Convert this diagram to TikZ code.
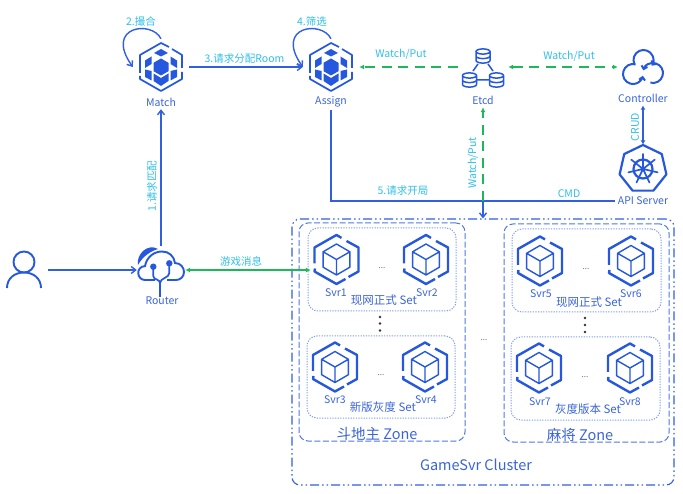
\documentclass[tikz,border=0pt]{standalone}
\usepackage{fontspec}
\setmainfont{Noto Sans CJK SC}
\usetikzlibrary{arrows.meta}
\definecolor{lineblue}{HTML}{3060DE}
\definecolor{iconblue}{HTML}{2558DE}
\definecolor{nameblue}{HTML}{3A64D8}
\definecolor{stepcyan}{HTML}{2FBFE8}
\definecolor{watchgreen}{HTML}{1DB85A}
\definecolor{setblue}{HTML}{7F9FEA}
\tikzset{
  iconbox/.style={inner sep=0pt,minimum size=48pt},
  namelabel/.style={inner sep=0pt,outer sep=3pt,text=nameblue,font=\fontsize{10.5}{12}\selectfont},
  steplabel/.style={inner sep=0pt,text=stepcyan,font=\fontsize{10.5}{12}\selectfont},
  setlabel/.style={inner sep=0pt,text=nameblue,font=\fontsize{11.5}{13}\selectfont},
  zonelabel/.style={inner sep=0pt,text=nameblue,font=\fontsize{14.5}{16}\selectfont},
  dotslabel/.style={inner sep=0pt,text=black!60,font=\fontsize{8}{10}\selectfont},
  clusterbox/.style={draw=lineblue,line width=1.1pt,rounded corners=8pt,inner sep=0pt,
    dash pattern=on 9pt off 3pt on 1.5pt off 3pt on 1.5pt off 3pt},
  zonebox/.style={draw=lineblue!85,line width=1pt,rounded corners=9pt,inner sep=0pt,
    dash pattern=on 6pt off 2.5pt},
  setbox/.style={draw=setblue,line width=1pt,rounded corners=10pt,inner sep=0pt,
    dash pattern=on 1.3pt off 1.3pt},
  blueline/.style={draw=lineblue,line width=1.4pt},
  bluearrow/.style={blueline,-{Straight Barb[length=4.5pt,width=7pt]}},
  bluebiarrow/.style={blueline,{Latex[length=4.5pt,width=5pt]}-{Latex[length=4.5pt,width=5pt]}},
  greendash/.style={draw=watchgreen,line width=1.3pt,dash pattern=on 10pt off 6.5pt},
  roomhex/.pic={
    \draw[iconblue,line width=1.7pt,line join=round]
      (8,20) -- (0,24) -- (-21,12) -- (-21,-6)
      (-21,-9) -- (-21,-12) -- (0,-24) -- (21,-12) -- (21,-5)
      (21,-1) -- (21,12) -- (11,18);
    \fill[iconblue] (0,8.5) -- (7.5,4.2) -- (7.5,-4.2) -- (0,-8.5) -- (-7.5,-4.2) -- (-7.5,4.2) -- cycle;
    \fill[iconblue] (0,18) -- (7,14) -- (0,10.5) -- (-7,14) -- cycle;
    \fill[iconblue] (0,-11) -- (7.5,-6.5) -- (7.5,-14) -- (0,-19) -- (-7.5,-14) -- (-7.5,-6.5) -- cycle;
    \foreach \s in {1,-1}{
      \fill[iconblue] (\s*9.5,10.5) -- (\s*16,6.5) -- (\s*16,-1) -- (\s*9.5,3) -- cycle;
      \fill[iconblue] (\s*9.5,-4) -- (\s*16,-2.5) -- (\s*16,-10) -- (\s*9.5,-13.5) -- cycle;
    }
  },
  svrhex/.pic={
    \draw[iconblue,line width=2.4pt,line join=round]
      (5,21.6) -- (0,24.5) -- (-22,12) -- (-22,-4)
      (-21.5,-9) -- (-22,-12) -- (0,-24.5) -- (9,-19.5)
      (12,-17.5) -- (22,-12) -- (22,12) -- (10,18.5);
    \draw[iconblue,line width=1.4pt,line join=round]
      (0,15.5) -- (13.4,7.7) -- (13.4,-7.7) -- (0,-15.5) -- (-13.4,-7.7) -- (-13.4,7.7) -- cycle
      (-13.4,7.7) -- (0,0) -- (13.4,7.7) (0,0) -- (0,-15.5);
  },
  dbcyl/.pic={
    \draw[iconblue,line width=1.5pt]
      (0,4.5) ellipse (7 and 2.6)
      (-7,4.5) -- (-7,-4.5) arc[start angle=180,end angle=360,x radius=7,y radius=2.6] -- (7,4.5)
      (-7,0) arc[start angle=180,end angle=360,x radius=7,y radius=2.6];
  },
  etcdstack/.pic={
    \pic at (0,11) {dbcyl};
    \pic at (-13.5,-13) {dbcyl};
    \pic at (13.5,-13) {dbcyl};
    \draw[iconblue,line width=1.5pt] (-5,3) -- (-10,-4) (5,3) -- (10,-4) (-6,-13) -- (6,-13);
  },
  loopicon/.pic={
    \draw[iconblue,line width=2pt,-{Straight Barb[length=3pt,width=6pt]}]
      (0.5,7) ++(205:10) arc[start angle=205,end angle=-35,radius=10];
    \draw[iconblue,line width=2pt,-{Straight Barb[length=3pt,width=6pt]}]
      (-10,-7) ++(75:10) arc[start angle=75,end angle=350,radius=10];
    \draw[iconblue,line width=2pt,-{Straight Barb[length=3pt,width=6pt]}]
      (10,-6) ++(-105:10) arc[start angle=-105,end angle=165,radius=10];
  },
  helmicon/.pic={
    \draw[iconblue,line width=2.2pt,line join=round]
      (90:24) -- (38.6:24) -- (-12.9:24) -- (-64.3:24) -- (-115.7:24) -- (-167.1:24) -- (141.4:24) -- cycle;
    \draw[iconblue,line width=2.2pt] (0,0) circle (9.5);
    \fill[iconblue] (0,0) circle (2.5);
    \foreach \a in {90,38.6,-12.9,-64.3,-115.7,-167.1,141.4}{
      \draw[iconblue,line width=1.7pt,line cap=round] (\a:2) -- (\a:15);
    }
  },
  routercloud/.pic={
    \fill[iconblue] (-23,5) .. controls (-25,16) and (-13,27) .. (-3,21) .. controls (-10,19) and (-18,14) .. (-23,5);
    \draw[iconblue,line width=1.9pt]
      (-6,-10) -- (-16,-10) .. controls (-24,-10) and (-26,3) .. (-16,4)
      .. controls (-14,14) and (-6,18.5) .. (1,18.5) .. controls (8,18.5) and (13,14) .. (14,7)
      .. controls (20,7) and (23,2) .. (23,-2) .. controls (23,-7) and (19,-10) .. (15,-10) -- (6,-10);
    \fill[iconblue] (-7.7,3.3) circle (3.2) (8.3,6.7) circle (3.2);
    \draw[iconblue,line width=1.7pt]
      (-7.7,3) -- (-7.7,-6) .. controls (-7.7,-10) and (-1,-9) .. (-1,-13) -- (-1,-27)
      (8.3,6.7) -- (8.3,-3) .. controls (8.3,-8) and (-1,-8) .. (-1,-13);
  },
  personicon/.pic={
    \draw[iconblue,line width=1.9pt] (0,8) circle (10.5);
    \draw[iconblue,line width=1.9pt]
      (-17,-18) .. controls (-17,-8) and (-9,-2.5) .. (0,-2.5) .. controls (9,-2.5) and (17,-8) .. (17,-18);
  }
}
\begin{document}
\begin{tikzpicture}[x=1pt,y=1pt]
\useasboundingbox (0,0) rectangle (683,-494);
\node [clusterbox,minimum width=382pt,minimum height=266pt] (cluster) at (483,-352) {};
\node [zonebox,minimum width=166pt,minimum height=218pt] (zoneleft) at (382,-332) {};
\node [zonebox,minimum width=165pt,minimum height=218pt] (zoneright) at (586.5,-333) {};
\node [setbox,minimum width=148pt,minimum height=83pt] (setone) at (382,-269.5) {};
\node [setbox,minimum width=148pt,minimum height=82pt] (settwo) at (381,-377) {};
\node [setbox,minimum width=149pt,minimum height=83pt] (setthree) at (586.5,-270.5) {};
\node [setbox,minimum width=149pt,minimum height=83pt] (setfour) at (585.5,-378.5) {};
\node [iconbox] (user) at (24,-270) {};
\pic at (user) {personicon};
\node [iconbox] (router) at (161,-270) {};
\pic at (router) {routercloud};
\node [namelabel] (routerlabel) at (162,-301) {Router};
\node [iconbox,minimum size=56pt] (match) at (161,-67) {};
\pic at (match) {roomhex};
\node [namelabel] (matchlabel) at (161,-102) {Match};
\node [iconbox,minimum size=56pt] (assign) at (331,-67) {};
\pic at (assign) {roomhex};
\node [namelabel] (assignlabel) at (331,-102) {Assign};
\node [iconbox,minimum size=50pt] (etcd) at (483,-67) {};
\pic at (etcd) {etcdstack};
\node [namelabel] (etcdlabel) at (483,-100) {Etcd};
\node [iconbox,minimum size=50pt] (controller) at (643,-67) {};
\pic at (controller) {loopicon};
\node [namelabel] (controllerlabel) at (643,-98) {Controller};
\node [iconbox] (api) at (643,-169) {};
\pic at (api) {helmicon};
\node [namelabel] (apilabel) at (643,-201) {API Server};
\node [iconbox,minimum size=51pt] (svr1) at (336.5,-259.5) {};
\pic at (svr1) {svrhex};
\node [namelabel] (svr1label) at (336,-293) {Svr1};
\node [iconbox,minimum size=51pt] (svr2) at (426,-259.5) {};
\pic at (svr2) {svrhex};
\node [namelabel] (svr2label) at (427,-293) {Svr2};
\node [iconbox,minimum size=51pt] (svr3) at (335,-367) {};
\pic at (svr3) {svrhex};
\node [namelabel] (svr3label) at (335,-400) {Svr3};
\node [iconbox,minimum size=51pt] (svr4) at (425,-367) {};
\pic at (svr4) {svrhex};
\node [namelabel] (svr4label) at (426,-400) {Svr4};
\node [iconbox,minimum size=51pt] (svr5) at (540,-261) {};
\pic at (svr5) {svrhex};
\node [namelabel] (svr5label) at (541,-294) {Svr5};
\node [iconbox,minimum size=51pt] (svr6) at (631,-261) {};
\pic at (svr6) {svrhex};
\node [namelabel] (svr6label) at (631,-294) {Svr6};
\node [iconbox,minimum size=51pt] (svr7) at (539,-368) {};
\pic at (svr7) {svrhex};
\node [namelabel] (svr7label) at (540,-402) {Svr7};
\node [iconbox,minimum size=51pt] (svr8) at (630,-368) {};
\pic at (svr8) {svrhex};
\node [namelabel] (svr8label) at (630,-402) {Svr8};
\node [setlabel] (setonelabel) at (384,-300) {现网正式 Set};
\node [setlabel] (settwolabel) at (383,-407) {新版灰度 Set};
\node [setlabel] (setthreelabel) at (589,-302) {现网正式 Set};
\node [setlabel] (setfourlabel) at (588,-409) {灰度版本 Set};
\node [zonelabel] (zoneleftlabel) at (377,-434) {斗地主 Zone};
\node [zonelabel] (zonerightlabel) at (580,-435) {麻将 Zone};
\node [zonelabel] (clusterlabel) at (476,-465) {GameSvr Cluster};
\node [dotslabel] (dotsone) at (382,-268) {...};
\node [dotslabel] (dotstwo) at (381,-375) {...};
\node [dotslabel] (dotsthree) at (586,-269) {...};
\node [dotslabel] (dotsfour) at (585,-377) {...};
\node [dotslabel] (dotsmid) at (484,-340) {...};
\fill [black!80] (380,-317) circle (1.3) (380,-323.5) circle (1.3) (380,-330.5) circle (1.3);
\fill [black!80] (585,-318) circle (1.3) (585,-325) circle (1.3) (585,-332) circle (1.3);
\coordinate (busjoin) at (483,-201);
\draw [bluearrow] (user) -- (router);
\draw [blueline,-{Straight Barb[length=4.5pt,width=7pt]}] (router.north) -- (matchlabel.south);
\draw [bluearrow] (match.east) -- (assign.west);
\draw [bluearrow] (match.north) .. controls (152,-20) and (104,-26) .. (match.west);
\draw [bluearrow] (assign.north) .. controls (322,-20) and (274,-26) .. (assign.west);
\draw [blueline] (assignlabel.south) |- (apilabel.west);
\draw [bluearrow] (busjoin) -- (busjoin |- cluster.north);
\draw [bluebiarrow] (controllerlabel.south) -- (api.north);
\draw [greendash,-{Latex[length=5pt,width=5pt]}] (etcd.west) -- (assign.east);
\draw [greendash,{Latex[length=5pt,width=5pt]}-{Latex[length=5pt,width=5pt]}] (etcd.east) -- (controller.west);
\draw [greendash,-{Latex[length=5pt,width=5pt]}] (busjoin) -- (etcdlabel.south);
\draw [draw=watchgreen,line width=1.3pt,{Latex[length=5pt,width=5pt]}-{Latex[length=5pt,width=5pt]}] (router.east) -- (router.east -| svr1.west);
\node [steplabel] (matchstep) at (141,-21) {2.撮合};
\node [steplabel] (assignstep) at (312,-21) {4.筛选};
\node [steplabel] (roomstep) at (244.5,-59) {3.请求分配Room};
\node [steplabel,rotate=90] (requeststep) at (152,-186) {1.请求匹配};
\node [steplabel] (msgstep) at (241,-261) {游戏消息};
\node [steplabel] (startstep) at (403,-191) {5.请求开局};
\node [steplabel] (cmdstep) at (569,-194) {CMD};
\node [steplabel] (watchleft) at (401,-54) {Watch/Put};
\node [steplabel] (watchright) at (569,-56) {Watch/Put};
\node [steplabel,rotate=90] (watchdown) at (473,-163) {Watch/Put};
\node [steplabel,rotate=90] (crudstep) at (635,-127) {CRUD};
\end{tikzpicture}
\end{document}
